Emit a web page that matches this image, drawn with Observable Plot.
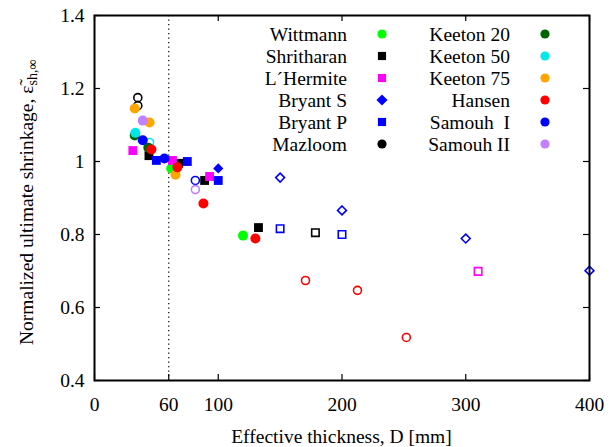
<!DOCTYPE html>
<html>
<head>
<meta charset="utf-8">
<script src="https://cdn.jsdelivr.net/npm/d3@7"></script>
<script src="https://cdn.jsdelivr.net/npm/@observablehq/plot@0.6"></script>
<style>
  html, body { margin: 0; padding: 0; background: #fff; }
  svg { display: block; }
  svg text, svg tspan { font-family: "Liberation Serif", "DejaVu Serif", serif !important; }
</style>
</head>
<body>
<div id="chart"></div>
<script>
// ---- data ----
const xTicks = [0, 60, 100, 200, 300, 400];
const yTicks = [0.4, 0.6, 0.8, 1, 1.2, 1.4];
const dottedAt = 60;
const xLabel = "Effective thickness, D [mm]";
const yLabelMain = "Normalized ultimate shrinkage, ";

const seriesNames = ["Wittmann", "Shritharan", "L\u00B4Hermite", "Bryant S", "Bryant P", "Mazloom",
  "Keeton 20", "Keeton 50", "Keeton 75", "Hansen", "Samouh  I", "Samouh II"];
const seriesColors = ["#00ff00", "#000000", "#ff00ff", "#0000ff", "#0000ff", "#000000",
  "#006400", "#00e8e8", "#ffa500", "#ff0000", "#0000ff", "#c080ff"];
const seriesSymbols = ["circle", "square", "square", "diamond2", "square", "circle",
  "circle", "circle", "circle", "circle", "circle", "circle"];

// [D, normalized shrinkage] pairs, filled markers
const filledPoints = [
  [[62, 0.981], [120, 0.797]],                              // Wittmann
  [[44, 1.016], [68, 0.995], [89, 0.948], [132.5, 0.819]],  // Shritharan
  [[31, 1.030], [63, 1.003], [93, 0.959]],                   // L'Hermite
  [[100, 0.981]],                                            // Bryant S
  [[50, 1.003], [75, 1.000], [100, 0.948]],                  // Bryant P
  [],                                                        // Mazloom
  [[32.5, 1.071], [43.5, 1.038]],                            // Keeton 20
  [[33, 1.079]],                                             // Keeton 50
  [[32.5, 1.145], [44.5, 1.107], [65.5, 0.964]],             // Keeton 75
  [[46, 1.033], [67, 0.984], [88, 0.885], [130, 0.789]],     // Hansen
  [[39, 1.058], [56.5, 1.008]],                              // Samouh I
  [[39, 1.112]]                                              // Samouh II
];
// open markers
const openPoints = [
  [],                                                        // Wittmann
  [[178.5, 0.805]],                                          // Shritharan
  [[310, 0.699]],                                            // L'Hermite
  [[150, 0.956], [200, 0.866], [300, 0.789], [400, 0.701]],  // Bryant S
  [[150, 0.816], [200, 0.800]],                              // Bryant P
  [[35, 1.175], [35, 1.153]],                                // Mazloom
  [],                                                        // Keeton 20
  [[44.5, 1.052]],                                           // Keeton 50
  [],                                                        // Keeton 75
  [[170.5, 0.674], [212.5, 0.647], [252, 0.518]],            // Hansen
  [[81.5, 0.948]],                                           // Samouh I
  [[81.5, 0.923]]                                            // Samouh II
];

// ---- build ----
const W = 616, H = 447;
const mL = 94, mR = 27, mT = 15, mB = 67;
const fw = W - mL - mR, fh = H - mT - mB;
const tickLen = 6;
const font = "'Liberation Serif', 'DejaVu Serif', serif";
const fs = 19.5;

const filledR = {circle: 5, square: 5, diamond2: 4.6};
const openR = {circle: 4, square: 4.2, diamond2: 4};

const toRows = (arr) => arr.map(([D, v]) => ({D, v}));

const marks = [
  Plot.ruleX([dottedAt], {stroke: "black", strokeWidth: 1.2, strokeDasharray: "1.2,3.3"}),
  Plot.ruleX(xTicks, {stroke: "black", strokeWidth: 1.2, insetTop: fh - tickLen}),
  Plot.ruleX(xTicks.filter(d => d !== dottedAt), {stroke: "black", strokeWidth: 1.2, insetBottom: fh - tickLen}),
  Plot.ruleY(yTicks, {stroke: "black", strokeWidth: 1.2, insetRight: fw - tickLen}),
  Plot.ruleY(yTicks, {stroke: "black", strokeWidth: 1.2, insetLeft: fw - tickLen}),
  Plot.axisX(xTicks, {tickSize: 0, tickPadding: 17, fontSize: fs, label: null, tickFormat: d => String(d)}),
  Plot.axisY(yTicks, {tickSize: 0, tickPadding: 10, fontSize: fs, label: null, tickFormat: d => String(d)}),
];

seriesNames.forEach((name, i) => {
  const sym = seriesSymbols[i];
  marks.push(Plot.dot(toRows(openPoints[i]), {
    x: "D", y: "v", symbol: sym, r: openR[sym], stroke: seriesColors[i], strokeWidth: 1.6, fill: "none"
  }));
});
seriesNames.forEach((name, i) => {
  const sym = seriesSymbols[i];
  marks.push(Plot.dot(toRows(filledPoints[i]), {
    x: "D", y: "v", symbol: sym, r: filledR[sym], fill: seriesColors[i], stroke: "none"
  }));
});
marks.push(Plot.frame({stroke: "black", strokeWidth: 2}));

const plot = Plot.plot({
  width: W, height: H,
  marginLeft: mL, marginRight: mR, marginTop: mT, marginBottom: mB,
  style: {fontFamily: font, fontSize: fs + "px", background: "#fff", color: "black"},
  x: {domain: [0, 400]},
  y: {domain: [0.4, 1.4]},
  marks
});

const svg = d3.select(plot);
svg.attr("font-family", font);

// x axis label
svg.append("text")
  .attr("x", mL + fw / 2).attr("y", 443)
  .attr("text-anchor", "middle").attr("font-size", fs).attr("fill", "black")
  .text(xLabel);

// y axis label with tilde epsilon and subscript
const yl = svg.append("text")
  .attr("transform", "translate(33,345) rotate(-90)")
  .attr("text-anchor", "start").attr("font-size", fs).attr("fill", "black");
yl.append("tspan").text(yLabelMain);
yl.append("tspan").text("\u03B5\u0303");
yl.append("tspan").attr("font-size", fs * 0.72).attr("dy", 4).text("sh,\u221E");

// legend inside plot (two columns)
const colTextEnd = [347, 510];
const colMarker = [382, 545];
const row0 = 34, rowStep = 22;
const legendR = {circle: 4.6, square: 4.6, diamond2: 5};
const symMap = {circle: d3.symbolCircle, square: d3.symbolSquare, diamond2: d3.symbolDiamond2};
const lg = svg.append("g").attr("font-size", fs);
seriesNames.forEach((name, i) => {
  const col = Math.floor(i / 6), row = i % 6;
  const y = row0 + row * rowStep;
  lg.append("text")
    .attr("x", colTextEnd[col]).attr("y", y).attr("dy", "0.35em")
    .attr("text-anchor", "end").attr("fill", "black")
    .style("white-space", "pre")
    .text(name);
  const sym = seriesSymbols[i];
  const rr = legendR[sym];
  lg.append("path")
    .attr("transform", `translate(${colMarker[col]},${y})`)
    .attr("d", d3.symbol(symMap[sym], Math.PI * rr * rr)())
    .attr("fill", seriesColors[i]);
});

document.getElementById("chart").appendChild(plot);
</script>
</body>
</html>
